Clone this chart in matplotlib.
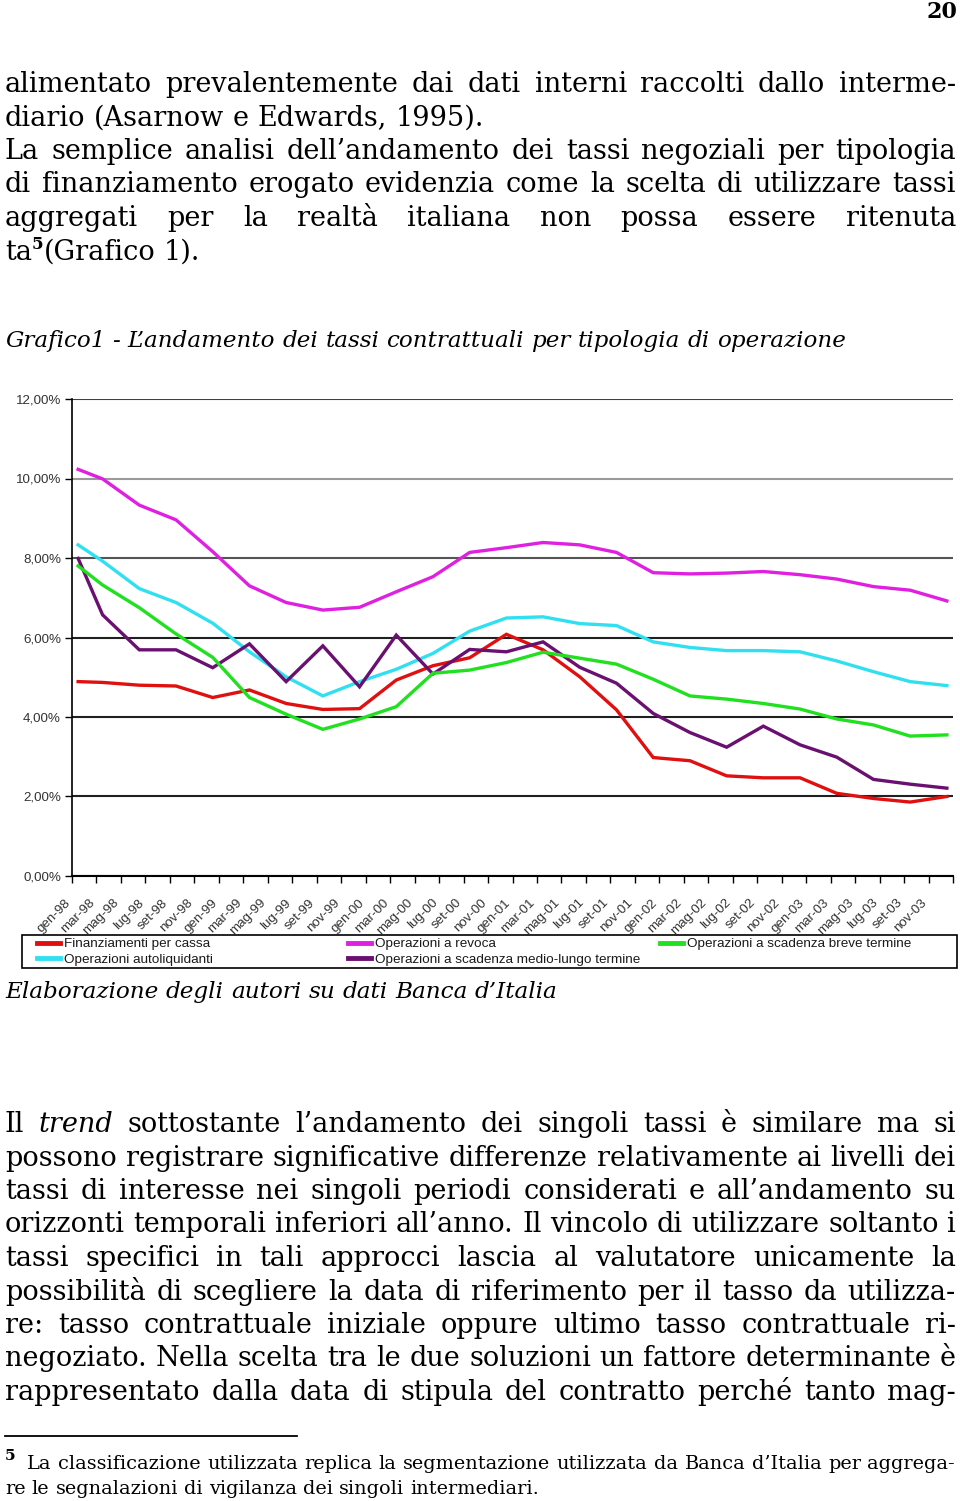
import matplotlib
matplotlib.use('Agg')
import matplotlib.pyplot as plt
from matplotlib.transforms import ScaledTranslation
from matplotlib.patches import Rectangle
from matplotlib.ticker import FuncFormatter

# ---------------- data ----------------
dates = ["1998-01", "1998-03", "1998-06", "1998-09", "1998-12",
         "1999-03", "1999-06", "1999-09", "1999-12",
         "2000-03", "2000-06", "2000-09", "2000-12",
         "2001-03", "2001-06", "2001-09", "2001-12",
         "2002-03", "2002-06", "2002-09", "2002-12",
         "2003-03", "2003-06", "2003-09", "2003-12"]

finanziamenti_cassa = [4.89, 4.87, 4.80, 4.78, 4.49, 4.68, 4.34, 4.19, 4.21, 4.93, 5.29, 5.49, 6.08,
                       5.69, 5.01, 4.18, 2.98, 2.90, 2.52, 2.47, 2.47, 2.08, 1.95, 1.86, 2.00]
autoliquidanti = [8.33, 7.92, 7.23, 6.88, 6.36, 5.64, 5.01, 4.53, 4.89, 5.20, 5.60, 6.16, 6.49,
                  6.52, 6.35, 6.30, 5.89, 5.75, 5.67, 5.67, 5.64, 5.41, 5.14, 4.89, 4.79]
revoca = [10.23, 9.99, 9.33, 8.96, 8.16, 7.30, 6.88, 6.69, 6.76, 7.15, 7.53, 8.14, 8.26,
          8.39, 8.33, 8.14, 7.63, 7.60, 7.62, 7.66, 7.58, 7.47, 7.28, 7.19, 6.92]
medio_lungo = [7.99, 6.57, 5.69, 5.69, 5.24, 5.84, 4.89, 5.79, 4.76, 6.06, 5.08, 5.70, 5.64,
               5.89, 5.25, 4.85, 4.09, 3.61, 3.24, 3.77, 3.30, 2.99, 2.43, 2.31, 2.21]
breve = [7.80, 7.32, 6.75, 6.09, 5.50, 4.49, 4.07, 3.69, 3.95, 4.26, 5.10, 5.18, 5.37,
         5.63, 5.48, 5.33, 4.95, 4.53, 4.45, 4.34, 4.20, 3.95, 3.80, 3.52, 3.55]

series_labels = ["Finanziamenti per cassa", "Operazioni autoliquidanti", "Operazioni a revoca",
                 "Operazioni a scadenza medio-lungo termine", "Operazioni a scadenza breve termine"]
series_colors = ["#e01010", "#30e0f0", "#e020e0", "#6a1070", "#20e020"]

tick_months = ["gen", "mar", "mag", "lug", "set", "nov"]
tick_years = ["98", "99", "00", "01", "02", "03"]
y_ticks = [0, 2, 4, 6, 8, 10, 12]

para1 = ["alimentato prevalentemente dai dati interni raccolti dallo interme-",
         "diario (Asarnow e Edwards, 1995).",
         "La semplice analisi dell\u2019andamento dei tassi negoziali per tipologia",
         "di finanziamento erogato evidenzia come la scelta di utilizzare tassi",
         "aggregati per la realt\u00e0 italiana non possa essere ritenuta",
         "ta^5(Grafico 1)."]
para1_justify = [True, False, True, True, True, False]

para2 = ["Il _trend_ sottostante l\u2019andamento dei singoli tassi \u00e8 similare ma si",
         "possono registrare significative differenze relativamente ai livelli dei",
         "tassi di interesse nei singoli periodi considerati e all\u2019andamento su",
         "orizzonti temporali inferiori all\u2019anno. Il vincolo di utilizzare soltanto i",
         "tassi specifici in tali approcci lascia al valutatore unicamente la",
         "possibilit\u00e0 di scegliere la data di riferimento per il tasso da utilizza-",
         "re: tasso contrattuale iniziale oppure ultimo tasso contrattuale ri-",
         "negoziato. Nella scelta tra le due soluzioni un fattore determinante \u00e8",
         "rappresentato dalla data di stipula del contratto perch\u00e9 tanto mag-"]

caption = "Grafico1 - L\u2019andamento dei tassi contrattuali per tipologia di operazione"
source = "Elaborazione degli autori su dati Banca d\u2019Italia"
footnote = ["La classificazione utilizzata replica la segmentazione utilizzata da Banca d\u2019Italia per aggrega-",
            "re le segnalazioni di vigilanza dei singoli intermediari."]

# ---------------- figure ----------------
W, H = 960, 1501
fig = plt.figure(figsize=(W / 100, H / 100), dpi=100)
fig.patch.set_facecolor('white')
tax = fig.add_axes([0, 0, 1, 1])
tax.set_xlim(0, W)
tax.set_ylim(H, 0)
tax.axis('off')
renderer = fig.canvas.get_renderer()

SERIF = 'DejaVu Serif'


def kw_for(style, fs):
    kw = dict(family=SERIF, fontsize=fs, color='black')
    if 'i' in style:
        kw['style'] = 'italic'
    if 'b' in style:
        kw['weight'] = 'bold'
    return kw


def width(s, **kw):
    t = tax.text(0, 0, s, **kw)
    w = t.get_window_extent(renderer).width
    t.remove()
    return w


def fit(s, target, style=''):
    w = width(s, **kw_for(style, 20))
    return 20 * target / w


def parse_word(w, base_style):
    # returns list of segments (text, style, scale, dy)
    if w.startswith('_') and w.endswith('_'):
        return [(w.strip('_'), base_style + 'i', 1.0, 0)]
    if '^' in w:
        a, rest = w.split('^', 1)
        sup, b = rest[0], rest[1:]
        segs = []
        if a:
            segs.append((a, base_style, 1.0, 0))
        segs.append((sup, base_style + 'b', 0.62, -0.38))
        if b:
            segs.append((b, base_style, 1.0, 0))
        return segs
    return [(w, base_style, 1.0, 0)]


def seg_width(seg, fs):
    t, st, sc, dy = seg
    return width(t, **kw_for(st, fs * sc))


def put_line(text, y, fs, justify=True, x0=5, x1=956, style=''):
    words = [parse_word(w, style) for w in text.split(' ')]
    wws = [sum(seg_width(s, fs) for s in wd) for wd in words]
    space = width('x x', **kw_for(style, fs)) - width('xx', **kw_for(style, fs))
    if justify and len(words) > 1:
        gap = (x1 - x0 - sum(wws)) / (len(words) - 1)
    else:
        gap = space
    x = x0
    for wd, ww in zip(words, wws):
        xx = x
        for seg in wd:
            t, st, sc, dy = seg
            tax.text(xx, y + dy * fs * 100 / 72, t, va='baseline', ha='left',
                     **kw_for(st, fs * sc))
            xx += seg_width(seg, fs)
        x += ww + gap


# font sizes fitted to widths measured on the page
fs_body = fit("diario (Asarnow e Edwards, 1995).", 478)
fs_cap = fit(caption, 840, 'i')
fs_src = fit(source, 553, 'i')
fs_foot = fit(footnote[1], 530)
fs_page = fit("20", 31, 'b')

# page number
tax.text(957, 18, "20", ha='right', va='baseline', **kw_for('b', fs_page))

# paragraph 1
y0 = 92
for i, (ln, j) in enumerate(zip(para1, para1_justify)):
    put_line(ln, y0 + i * 33.5, fs_body, justify=j)

# caption
put_line(caption, 347, fs_cap, justify=False, style='i')

# source
put_line(source, 998, fs_src, justify=False, style='i')

# paragraph 2
y0 = 1132
for i, ln in enumerate(para2):
    put_line(ln, y0 + i * 33.5, fs_body, justify=True)

# footnote
tax.plot([5, 297], [1436, 1436], color='black', lw=1.3)
tax.text(5, 1460, "5", ha='left', va='baseline', **kw_for('b', fs_foot * 0.8))
put_line(footnote[0], 1469, fs_foot, justify=True, x0=27, x1=955)
put_line(footnote[1], 1494, fs_foot, justify=False)

# ---------------- chart ----------------
ax = fig.add_axes([72 / W, 1 - 876 / H, (953 - 72) / W, (876 - 399) / H])
xpos = [(int(d[:4]) - 1998) * 12 + int(d[5:7]) - 1 + 0.5 for d in dates]
all_series = [finanziamenti_cassa, autoliquidanti, revoca, medio_lungo, breve]
lines = []
for vals, lab, col in zip(all_series, series_labels, series_colors):
    ln, = ax.plot(xpos, vals, color=col, lw=2.4, label=lab, solid_joinstyle='miter', zorder=3)
    lines.append(ln)

n_months = len(tick_years) * 12
ax.set_xlim(0, n_months)
ax.set_ylim(y_ticks[0], y_ticks[-1])
ax.set_yticks(y_ticks)
ax.yaxis.set_major_formatter(FuncFormatter(lambda v, p: f"{v:.2f}%".replace('.', ',')))
tick_labels = [f"{m}-{yy}" for yy in tick_years for m in tick_months]
ax.set_xticks(list(range(0, n_months + 1, 2)))
ax.set_xticklabels(tick_labels + [''])
for s in ['top', 'right']:
    ax.spines[s].set_visible(False)
ax.spines['left'].set_color('black')
ax.spines['left'].set_linewidth(1.2)
ax.spines['bottom'].set_color('black')
ax.spines['bottom'].set_linewidth(1.5)
ax.grid(axis='y', color='#202020', lw=1.5)
ax.grid(axis='x', visible=False)
ax.set_axisbelow(True)
grid_cols = ['#202020', '#202020', '#202020', '#202020', '#555555', '#9a9a9a', '#404040']
for gl, c in zip(ax.get_ygridlines(), grid_cols):
    gl.set_color(c)
ax.tick_params(axis='y', direction='out', length=5, width=1, pad=3,
               labelsize=9.6, labelcolor='#333333', labelfontfamily='Liberation Sans')
ax.tick_params(axis='x', direction='out', length=5, width=1, pad=13,
               labelsize=9.6, labelcolor='#333333', labelfontfamily='Liberation Sans')
off = ScaledTranslation(-3.5 / 100, 0, fig.dpi_scale_trans)
for lab in ax.get_xticklabels():
    lab.set_rotation(45)
    lab.set_ha('right')
    lab.set_va('center')
    lab.set_rotation_mode('anchor')
    lab.set_transform(lab.get_transform() + off)

# legend box
tax.add_patch(Rectangle((22, 935), 957 - 22, 968 - 935, fill=False, ec='black', lw=1.2))
col_groups = [[0, 1], [2, 3], [4]]
col_x = [37, 348, 660]
for grp, cx in zip(col_groups, col_x):
    leg = fig.legend([lines[i] for i in grp], [series_labels[i] for i in grp],
                     loc='upper left', bbox_to_anchor=(cx / W, 1 - 938 / H),
                     frameon=False, borderpad=0, borderaxespad=0,
                     handlelength=1.7, handletextpad=0.3, labelspacing=0.22,
                     prop={'family': 'Liberation Sans', 'size': 9.7})
    for h in leg.legend_handles:
        h.set_linewidth(3.5)
    for t in leg.get_texts():
        t.set_color('#1a1a1a')

fig.savefig('out.png', dpi=100, facecolor='white')
